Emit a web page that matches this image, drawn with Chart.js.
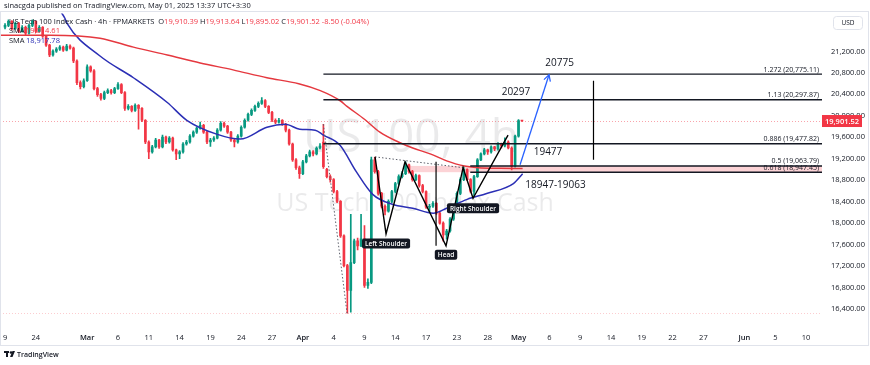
<!DOCTYPE html>
<html>
<head>
<meta charset="utf-8">
<script src="https://cdn.jsdelivr.net/npm/chart.js@4.4.1/dist/chart.umd.min.js"></script>
<style>
  html, body { margin: 0; padding: 0; background: #fff; }
</style>
</head>
<body>
<canvas id="chart" width="870" height="365"></canvas>
<script>
// US Tech 100 Index Cash, 4h candles (3 per trading day, day 0 = Feb 19)
const opens = [
  21650,21685,21758,21629,21721,21574,21648,21537,21685,21758,21574,21648,
  21482,21316,21132,21205,21242,21279,21224,21297,21261,21021,20616,20542,
  20652,20910,20837,20505,20394,20321,20431,20468,20431,20505,20579,20431,
  20136,20173,20100,20192,20136,19915,19510,19326,19418,19547,19418,19602,
  19510,19584,19362,19289,19326,19473,19510,19620,19694,19768,19823,19694,
  19510,19547,19584,19731,19860,19805,19694,19547,19510,19620,19786,19915,
  20026,20100,20173,20229,20284,20173,20063,19915,19878,19915,19842,19731,
  19473,19178,19031,18920,19141,19252,19326,19289,19399,19510,19000,18865,
  18810,18588,18404,17759,17206,16745,17261,17667,17575,17704,16838,16893,
  19178,18957,18551,18312,18220,18404,18588,18736,18865,18920,19086,18957,
  18810,18883,18699,18588,18293,18312,18367,18183,17998,17777,17851,18072,
  18312,18551,18810,18994,18810,18588,18865,19178,19289,19362,19326,19418,
  19381,19473,19436,19510,19399,19058,19620,19910.39
];
const highs = [
  21720,21790,21775,21745,21740,21680,21670,21710,21790,21770,21680,21660,
  21500,21330,21230,21270,21310,21300,21330,21320,21280,21040,20650,20690,
  20950,20930,20860,20530,20420,20460,20500,20490,20530,20620,20600,20450,
  20210,20190,20220,20210,20150,19930,19530,19450,19580,19560,19640,19620,
  19610,19600,19380,19350,19500,19540,19650,19720,19790,19880,19840,19710,
  19580,19610,19760,19890,19880,19820,19710,19560,19650,19810,19940,20050,
  20130,20200,20260,20340,20300,20190,20080,19940,19950,19930,19860,19750,
  19490,19200,19060,19170,19280,19360,19350,19420,19480,19840,19020,18900,
  18830,18610,18420,17780,17230,18160,17700,17720,18160,17950,16960,19230,
  19230,18980,18570,18340,18430,18610,18760,18900,18960,19140,19100,18980,
  18910,18900,18720,18600,18350,18400,18380,18200,18020,17880,18100,18340,
  18580,18840,19050,19010,18830,18890,19200,19310,19390,19380,19440,19430,
  19500,19490,19590,19530,19420,19640,19930,19913.64
];
const lows = [
  21620,21660,21600,21610,21550,21560,21500,21520,21660,21550,21560,21460,
  21290,21100,21110,21180,21220,21200,21210,21240,20990,20580,20500,20520,
  20640,20810,20480,20360,20290,20300,20410,20400,20410,20490,20410,20100,
  20110,20070,20080,19750,19890,19480,19200,19300,19400,19390,19400,19480,
  19490,19340,19180,19200,19300,19450,19490,19600,19670,19750,19670,19480,
  19430,19520,19570,19710,19780,19670,19520,19420,19490,19600,19770,19900,
  20000,20080,20150,20210,20150,20040,19890,19850,19860,19820,19700,19450,
  19150,19000,18830,18900,19120,19230,19250,19270,19380,19020,18840,18760,
  18560,18380,17730,17180,16320,16340,17240,17500,17560,16800,16780,16870,
  18930,18520,18280,18150,18200,18380,18560,18710,18840,18900,18930,18780,
  18790,18670,18560,18270,18200,18290,18160,17980,17660,17700,17830,18050,
  18290,18530,18790,18790,18560,18490,18850,19160,19270,19280,19300,19350,
  19360,19400,19420,19380,18990,19040,19600,19895.02
];
const closes = [
  21685,21758,21629,21721,21574,21648,21537,21685,21758,21574,21648,21482,
  21316,21132,21205,21242,21279,21224,21297,21261,21021,20616,20542,20652,
  20910,20837,20505,20394,20321,20431,20468,20431,20505,20579,20431,20136,
  20173,20100,20192,20136,19915,19510,19326,19418,19547,19418,19602,19510,
  19584,19362,19289,19326,19473,19510,19620,19694,19768,19823,19694,19510,
  19547,19584,19731,19860,19805,19694,19547,19510,19620,19786,19915,20026,
  20100,20173,20229,20284,20173,20063,19915,19878,19915,19842,19731,19473,
  19178,19031,18920,19141,19252,19326,19289,19399,19436,19049,18865,18810,
  18588,18404,17759,17206,16745,17261,17667,17575,17704,16838,16893,19178,
  18957,18551,18312,18220,18404,18588,18736,18865,18920,19086,18957,18810,
  18883,18699,18588,18293,18312,18367,18183,17998,17777,17851,18072,18312,
  18551,18810,18994,18810,18588,18865,19178,19289,19362,19326,19418,19381,
  19473,19436,19510,19399,19058,19620,19910,19901.52
];

// moving averages (trading-day position, price)
const smaSlowDays   = [-0.5, 4.4, 9.25, 12.5, 15.8, 19, 22.2, 25.5, 28.6, 30.7, 32.6, 33.3, 35, 36.5, 38.3, 39.7, 41.4, 43, 44.6, 46.1, 48.2, 50.4];
const smaSlowValues = [21500, 21500, 21445, 21279, 21132, 20984, 20855, 20708, 20597, 20468, 20284, 20175, 19934, 19694, 19510, 19399, 19289, 19159, 19067, 19031, 19020, 19014];
const smaFastDays   = [5.4, 5.84, 6.04, 9.25, 12.5, 15.8, 17.7, 20.6, 22.9, 25.5, 27.3, 28.7, 30.2, 31, 32.6, 34.2, 35.8, 37.7, 39.7, 41.7, 43, 45, 46.9, 49.5, 50.4];
const smaFastValues = [21950, 21813, 21722, 21113, 20708, 20247, 19915, 19657, 19565, 19786, 19842, 19749, 19731, 19639, 19454, 18957, 18533, 18349, 18275, 18183, 18275, 18441, 18551, 18736, 18918];

// axis labels
const xTickDays   = [0, 3, 8, 11, 14, 17, 20, 23, 26, 29, 32, 35, 38, 41, 44, 47, 50, 53, 56, 59, 62, 65, 68, 72, 75, 78];
const xTickLabels = ['9', '24', 'Mar', '6', '11', '14', '19', '24', '27', 'Apr', '4', '9', '14', '17', '23', '28', 'May', '6', '9', '14', '19', '22', '27', 'Jun', '5', '10'];
const monthLabels = ['Mar', 'Apr', 'May', 'Jun'];
const yTicks = [16400, 16800, 17200, 17600, 18000, 18400, 18800, 19200, 19600, 20000, 20400, 20800, 21200];

// drawings
const fibRatios = ['1.272', '1.13', '0.886', '0.5', '0.618'];
const fibPrices = [20775.11, 20297.87, 19477.82, 19063.79, 18947.45];
const fibStart  = [31, 31, 31, 45.3, 45.3];
const zoneStart = 39.4;
const patternDays   = [36.03, 37.1, 38.95, 42.94, 44.6, 45.57, 48.98];
const patternPrices = [19233, 17796, 19141, 17574, 19031, 18460, 19639];
const lastPrice = 19901.52;
const lowLine = 16330;

const FONT = '"Open Sans", "Noto Sans", sans-serif';
const UP = '#089981', DOWN = '#f23645';

const dayOf = i => Math.floor(i / 3) + (i % 3) / 3;
const colors = opens.map((o, i) => closes[i] >= o ? UP : DOWN);

function fmt(v) {
  return v.toLocaleString('en-US', { minimumFractionDigits: 2, maximumFractionDigits: 2 });
}

function seg(c, x, y, d1, p1, d2, p2) {
  c.beginPath();
  c.moveTo(x.getPixelForValue(d1), y.getPixelForValue(p1));
  c.lineTo(x.getPixelForValue(d2), y.getPixelForValue(p2));
  c.stroke();
}

function tag(c, text, cx, cy) {
  c.font = '600 6.5px ' + FONT;
  const w = c.measureText(text).width + 6;
  c.fillStyle = '#131722';
  c.beginPath();
  c.roundRect(cx - w / 2, cy - 5, w, 10, 2);
  c.fill();
  c.fillStyle = '#fff';
  c.textAlign = 'center';
  c.textBaseline = 'middle';
  c.fillText(text, cx, cy + 0.5);
}

const overlay = {
  id: 'overlay',
  beforeDatasetsDraw(chart) {
    const { ctx: c, chartArea: a, scales: { x, y } } = chart;
    c.save();
    // watermark
    const mid = (a.left + a.right) / 2;
    c.fillStyle = 'rgba(19,23,34,0.09)';
    c.textAlign = 'center';
    c.textBaseline = 'alphabetic';
    c.font = '46px ' + FONT;
    c.fillText('US100, 4h', mid, 152);
    c.font = '25px ' + FONT;
    c.fillText('US Tech 100 Index Cash', mid + 4, 211);

    // price lines
    c.setLineDash([1, 2]);
    c.lineWidth = 1;
    c.strokeStyle = 'rgba(242,54,69,0.45)';
    let py = Math.round(y.getPixelForValue(lastPrice)) + 0.5;
    c.beginPath(); c.moveTo(a.left, py); c.lineTo(a.right, py); c.stroke();
    c.strokeStyle = 'rgba(242,54,69,0.25)';
    py = Math.round(y.getPixelForValue(lowLine)) + 0.5;
    c.beginPath(); c.moveTo(a.left, py); c.lineTo(a.right, py); c.stroke();
    c.setLineDash([]);

    // support zone
    const zx = x.getPixelForValue(zoneStart);
    const z1 = y.getPixelForValue(fibPrices[3]);
    const z2 = y.getPixelForValue(fibPrices[4]);
    c.fillStyle = 'rgba(242,54,69,0.22)';
    c.fillRect(zx, z1, a.right - zx, z2 - z1);
    c.restore();
  },
  afterDatasetsDraw(chart) {
    const { ctx: c, chartArea: a, scales: { x, y } } = chart;
    c.save();
    c.beginPath();
    c.rect(a.left, a.top, a.right - a.left, a.bottom - a.top);
    c.clip();

    // fib levels
    fibPrices.forEach((p, i) => {
      const yy = y.getPixelForValue(p);
      c.strokeStyle = '#131722';
      c.lineWidth = i >= 3 ? 1.5 : 1.3;
      c.beginPath();
      c.moveTo(x.getPixelForValue(fibStart[i]), yy);
      c.lineTo(a.right, yy);
      c.stroke();
      c.fillStyle = '#131722';
      c.font = '7px ' + FONT;
      c.textAlign = 'right';
      c.textBaseline = 'bottom';
      c.fillText(fibRatios[i] + ' (' + fmt(p) + ')', a.right - 3, yy - 1);
    });

    // dotted moves
    c.setLineDash([1.5, 2]);
    c.strokeStyle = '#5d606b';
    c.lineWidth = 1;
    seg(c, x, y, 31, 19841, 33.3, 16320);
    seg(c, x, y, patternDays[0], patternPrices[0], patternDays[4], patternPrices[4]);
    c.setLineDash([]);

    // head and shoulders zigzag
    c.strokeStyle = '#000';
    c.lineWidth = 1.4;
    c.beginPath();
    patternDays.forEach((d, i) => {
      const px = x.getPixelForValue(d), pyy = y.getPixelForValue(patternPrices[i]);
      if (i === 0) c.moveTo(px, pyy); else c.lineTo(px, pyy);
    });
    c.stroke();

    // measured lines
    c.lineWidth = 1.2;
    seg(c, x, y, 41.97, 19141, 41.97, 17574);
    seg(c, x, y, 57.3, 20652, 57.3, 19178);

    // target arrow
    c.strokeStyle = '#2962ff';
    c.lineWidth = 1.3;
    const ax1 = x.getPixelForValue(50.15), ay1 = y.getPixelForValue(19086);
    const ax2 = x.getPixelForValue(52.97), ay2 = y.getPixelForValue(20763);
    c.beginPath(); c.moveTo(ax1, ay1); c.lineTo(ax2, ay2); c.stroke();
    const ang = Math.atan2(ay2 - ay1, ax2 - ax1);
    c.beginPath();
    c.moveTo(ax2 - 7 * Math.cos(ang - 0.5), ay2 - 7 * Math.sin(ang - 0.5));
    c.lineTo(ax2, ay2);
    c.lineTo(ax2 - 7 * Math.cos(ang + 0.5), ay2 - 7 * Math.sin(ang + 0.5));
    c.stroke();

    // level labels
    c.fillStyle = '#131722';
    c.font = '10px ' + FONT;
    c.textAlign = 'center';
    c.textBaseline = 'middle';
    c.fillText('20775', x.getPixelForValue(54.0), y.getPixelForValue(20984));
    c.fillText('20297', x.getPixelForValue(49.75), y.getPixelForValue(20431));
    c.fillText('19477', x.getPixelForValue(52.87), y.getPixelForValue(19326));
    c.fillText('18947-19063', x.getPixelForValue(53.6), y.getPixelForValue(18699));

    // pattern tags
    const px = i => x.getPixelForValue(patternDays[i]);
    const pyv = i => y.getPixelForValue(patternPrices[i]);
    tag(c, 'Left Shoulder', px(1), pyv(1) + 9.5);
    tag(c, 'Head', px(3), pyv(3) + 9);
    tag(c, 'Right Shoulder', px(5), pyv(5) + 10);
    c.restore();
  },
  afterDraw(chart) {
    const { ctx: c, chartArea: a, scales: { y } } = chart;
    c.save();
    // frame
    c.strokeStyle = '#e0e3eb';
    c.lineWidth = 1;
    c.strokeRect(0.5, 11.5, 868, 334);

    // header
    c.textAlign = 'left';
    c.textBaseline = 'middle';
    c.fillStyle = '#131722';
    c.font = '7.5px ' + FONT;
    c.fillText('sinacgda published on TradingView.com, May 01, 2025 13:37 UTC+3:30', 4, 6);

    let cx = 9;
    const put = (t, col) => { c.fillStyle = col; c.fillText(t, cx, 22); cx += c.measureText(t).width; };
    c.font = '7.5px ' + FONT;
    put('US Tech 100 Index Cash \u00b7 4h \u00b7 FPMARKETS  ', '#131722');
    put('O', '#131722'); put('19,910.39 ', DOWN);
    put('H', '#131722'); put('19,913.64 ', DOWN);
    put('L', '#131722'); put('19,895.02 ', DOWN);
    put('C', '#131722'); put('19,901.52 -8.50 (-0.04%)', DOWN);
    c.fillStyle = '#131722';
    c.fillText('SMA', 9, 31);
    c.fillText('SMA', 9, 41);
    c.fillStyle = DOWN;
    c.fillText('19,014.61', 26, 31);
    c.fillStyle = '#2b2fb5';
    c.fillText('18,917.78', 26, 41);

    // currency box
    c.strokeStyle = '#e0e3eb';
    c.fillStyle = '#fff';
    c.beginPath(); c.roundRect(833.5, 16.5, 29, 13, 3); c.fill(); c.stroke();
    c.fillStyle = '#131722';
    c.font = '6.5px ' + FONT;
    c.textAlign = 'center';
    c.fillText('USD', 848, 23);

    // last price tag
    const ly = y.getPixelForValue(lastPrice);
    c.fillStyle = DOWN;
    c.fillRect(822, ly - 6, 40, 12);
    c.fillStyle = '#fff';
    c.font = '600 7.5px ' + FONT;
    c.textAlign = 'left';
    c.fillText(fmt(lastPrice), 825, ly + 0.5);

    // logo
    c.fillStyle = '#131722';
    c.fillRect(4, 351, 5, 2);
    c.fillRect(6, 351, 2, 6);
    c.beginPath(); c.arc(11, 352.5, 1.3, 0, Math.PI * 2); c.fill();
    c.beginPath(); c.moveTo(12.5, 351); c.lineTo(15, 351); c.lineTo(12.5, 357); c.lineTo(10, 357); c.fill();
    c.font = '600 7px ' + FONT;
    c.fillText('TradingView', 17, 354.5);
    c.restore();
  }
};

new Chart(document.getElementById('chart').getContext('2d'), {
  type: 'bar',
  data: {
    datasets: [
      {
        type: 'line',
        data: smaSlowDays.map((d, i) => ({ x: d, y: smaSlowValues[i] })),
        borderColor: '#e5383f',
        borderWidth: 1.5,
        pointRadius: 0,
        cubicInterpolationMode: 'monotone',
        order: 0
      },
      {
        type: 'line',
        data: smaFastDays.map((d, i) => ({ x: d, y: smaFastValues[i] })),
        borderColor: '#2b2fb5',
        borderWidth: 1.5,
        pointRadius: 0,
        cubicInterpolationMode: 'monotone',
        order: 0
      },
      {
        data: opens.map((o, i) => ({ x: dayOf(i), y: [o, closes[i]] })),
        backgroundColor: colors,
        barThickness: 2,
        minBarLength: 1,
        grouped: false,
        order: 1
      },
      {
        data: opens.map((o, i) => ({ x: dayOf(i), y: [lows[i], highs[i]] })),
        backgroundColor: colors,
        barThickness: 1,
        grouped: false,
        order: 2
      }
    ]
  },
  options: {
    responsive: false,
    animation: false,
    layout: { padding: { top: 10, left: 0, right: 0, bottom: 0 } },
    plugins: { legend: { display: false }, tooltip: { enabled: false } },
    scales: {
      x: {
        type: 'linear',
        min: -0.49,
        max: 79.55,
        offset: false,
        grid: { display: false, drawTicks: true, tickLength: 14 },
        border: { display: false },
        afterBuildTicks: axis => { axis.ticks = xTickDays.map(v => ({ value: v })); },
        afterFit: axis => { axis.height = 47; axis.paddingLeft = 0; axis.paddingRight = 0; },
        ticks: {
          autoSkip: false,
          maxRotation: 0,
          padding: 1,
          color: '#131722',
          font: c => ({ family: FONT, size: 7.5, weight: monthLabels.includes(xTickLabels[c.index]) ? '600' : '400' }),
          callback: (v, i) => xTickLabels[i]
        }
      },
      y: {
        position: 'right',
        min: 16229,
        max: 21906,
        grid: { display: false, drawTicks: false },
        border: { display: false },
        afterBuildTicks: axis => { axis.ticks = yTicks.map(v => ({ value: v })); },
        afterFit: axis => { axis.width = 48; },
        ticks: {
          padding: 9,
          color: '#131722',
          font: { family: FONT, size: 7.5 },
          callback: v => fmt(v)
        }
      }
    }
  },
  plugins: [overlay]
});
</script>
</body>
</html>
